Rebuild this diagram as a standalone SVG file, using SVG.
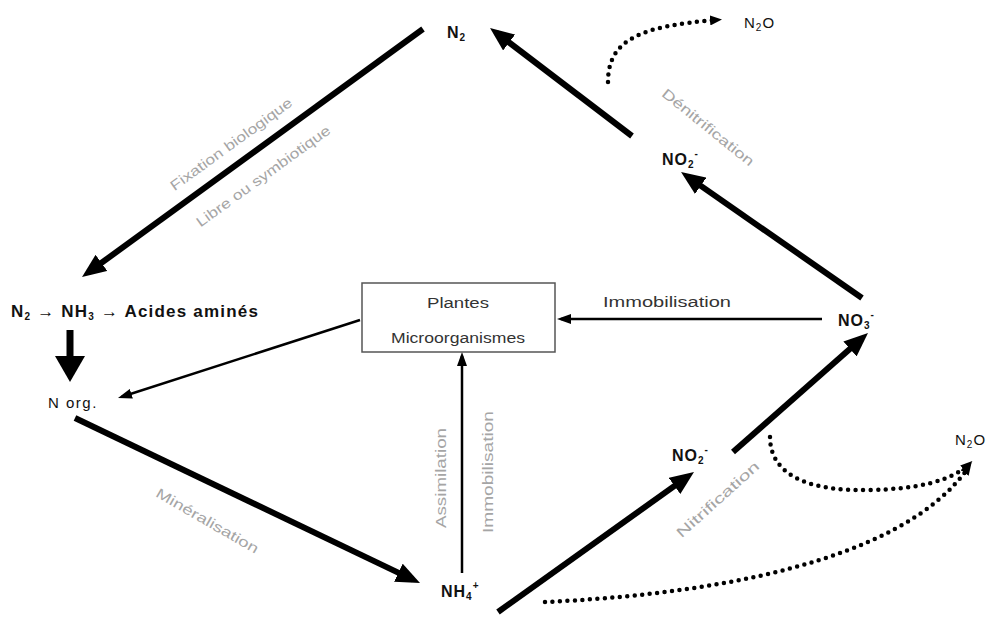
<svg xmlns="http://www.w3.org/2000/svg" width="987" height="631" viewBox="0 0 987 631">
<style>
.bg{fill:#fff}
.thick{stroke:#000;stroke-width:6;fill:none}
.thin{stroke:#000;stroke-width:2.5;fill:none}
.dot{stroke:#000;stroke-width:4.5;fill:none;stroke-linecap:round;stroke-dasharray:0 7.5}
.lbl{font-family:"Liberation Sans",Arial,sans-serif;font-weight:bold;font-size:16px;letter-spacing:1px;fill:#111}
.reg{font-weight:normal;font-size:15px}
.sub{font-size:10px}
.box{fill:#fff;stroke:#555;stroke-width:1.5}
.btx{font-family:"Liberation Sans",Arial,sans-serif;font-size:14px;fill:#333;text-anchor:middle}
.gray{font-family:"Liberation Sans",Arial,sans-serif;font-size:14px;fill:#a5a5a5;text-anchor:middle}
</style>
<defs>
<marker id="ah" markerUnits="userSpaceOnUse" viewBox="0 0 24 20" refX="16" refY="10" markerWidth="24" markerHeight="20" orient="auto"><path d="M0,0 L24,10 L0,20 z" fill="#000"/></marker>
<marker id="ahb" markerUnits="userSpaceOnUse" viewBox="0 0 26 30" refX="18" refY="15" markerWidth="26" markerHeight="30" orient="auto"><path d="M0,0 L26,15 L0,30 z" fill="#000"/></marker>
<marker id="ahs" markerUnits="userSpaceOnUse" viewBox="0 0 14 10" refX="10" refY="5" markerWidth="14" markerHeight="10" orient="auto"><path d="M0,0 L14,5 L0,10 z" fill="#000"/></marker>
<marker id="ahd" markerUnits="userSpaceOnUse" viewBox="0 0 12 10" refX="6" refY="5" markerWidth="12" markerHeight="10" orient="auto"><path d="M0,0 L12,5 L0,10 z" fill="#000"/></marker>
</defs>
<rect class="bg" width="987" height="631"/>

<g id="connectors">
<line class="thick" x1="423" y1="29" x2="88.5" y2="272.3" marker-end="url(#ah)"/>
<line class="thick" x1="70" y1="330" x2="70" y2="374" style="stroke-width:7" marker-end="url(#ahb)"/>
<line class="thick" x1="75" y1="418" x2="412.8" y2="579.6" marker-end="url(#ah)"/>
<line class="thick" x1="498" y1="612" x2="687.5" y2="476.6" marker-end="url(#ah)"/>
<line class="thick" x1="733" y1="452" x2="862" y2="338.3" marker-end="url(#ah)"/>
<line class="thick" x1="862" y1="298" x2="687.6" y2="176.6" marker-end="url(#ah)"/>
<line class="thick" x1="632" y1="136" x2="496.4" y2="32.8" marker-end="url(#ah)"/>
<line class="thin" x1="360" y1="320" x2="121.8" y2="396.8" marker-end="url(#ahs)"/>
<line class="thin" x1="822" y1="319" x2="561" y2="319" marker-end="url(#ahs)"/>
<line class="thin" x1="462" y1="573" x2="462" y2="356" marker-end="url(#ahs)"/>
<path class="dot" d="M608,82 C608,40 640,26 716,20" marker-end="url(#ahd)"/>
<path class="dot" d="M770,437 C770,470 800,492 870,490 C920,489 952,480 968,465" marker-end="url(#ahd)"/>
<path class="dot" d="M545,602 C700,595 900,565 968,468" marker-end="url(#ahd)"/>
</g>

<g id="n2-top"><text class="lbl" x="447" y="38">N<tspan class="sub" dy="3">2</tspan></text></g>
<g id="n2o-top"><text class="lbl reg" x="744" y="28">N<tspan class="sub" dy="3">2</tspan><tspan dy="-3">O</tspan></text></g>
<g id="no2-top"><text class="lbl" x="662" y="165">NO<tspan class="sub" dy="3">2</tspan><tspan class="sub" dy="-11">-</tspan></text></g>
<g id="no3"><text class="lbl" x="838" y="326">NO<tspan class="sub" dy="3">3</tspan><tspan class="sub" dy="-11">-</tspan></text></g>
<g id="chain"><text class="lbl" x="11" y="317" style="font-size:17px;letter-spacing:1.2px">N<tspan class="sub" dy="3">2</tspan><tspan dy="-3"> → NH</tspan><tspan class="sub" dy="3">3</tspan><tspan dy="-3"> → Acides aminés</tspan></text></g>
<g id="norg"><text class="lbl reg" x="48" y="408" style="letter-spacing:1.5px">N org.</text></g>
<g id="nh4"><text class="lbl" x="441" y="597">NH<tspan class="sub" dy="3">4</tspan><tspan class="sub" dy="-11">+</tspan></text></g>
<g id="no2-low"><text class="lbl" x="672" y="461">NO<tspan class="sub" dy="3">2</tspan><tspan class="sub" dy="-11">-</tspan></text></g>
<g id="n2o-right"><text class="lbl reg" x="955" y="445">N<tspan class="sub" dy="3">2</tspan><tspan dy="-3">O</tspan></text></g>
<g id="box">
<rect class="box" x="362" y="283" width="193" height="69"/>
<text class="btx" x="458" y="308" textLength="62" lengthAdjust="spacingAndGlyphs">Plantes</text>
<text class="btx" x="458" y="343" textLength="134" lengthAdjust="spacingAndGlyphs">Microorganismes</text>
</g>

<g id="labels">
<text class="btx" x="667" y="307" textLength="128" lengthAdjust="spacingAndGlyphs">Immobilisation</text>
<text class="gray" transform="translate(234,148) rotate(-36)" textLength="147" lengthAdjust="spacingAndGlyphs">Fixation biologique</text>
<text class="gray" transform="translate(266,180) rotate(-36)" textLength="162" lengthAdjust="spacingAndGlyphs">Libre ou symbiotique</text>
<text class="gray" transform="translate(205,525) rotate(30)" textLength="116" lengthAdjust="spacingAndGlyphs">Minéralisation</text>
<text class="gray" transform="translate(705,131) rotate(39)" textLength="114" lengthAdjust="spacingAndGlyphs">Dénitrification</text>
<text class="gray" transform="translate(721,503) rotate(-42)" textLength="106" lengthAdjust="spacingAndGlyphs">Nitrification</text>
<text class="gray" transform="translate(446,478) rotate(-90)" textLength="100" lengthAdjust="spacingAndGlyphs">Assimilation</text>
<text class="gray" transform="translate(493,472) rotate(-90)" textLength="122" lengthAdjust="spacingAndGlyphs">Immobilisation</text>
</g>
</svg>
